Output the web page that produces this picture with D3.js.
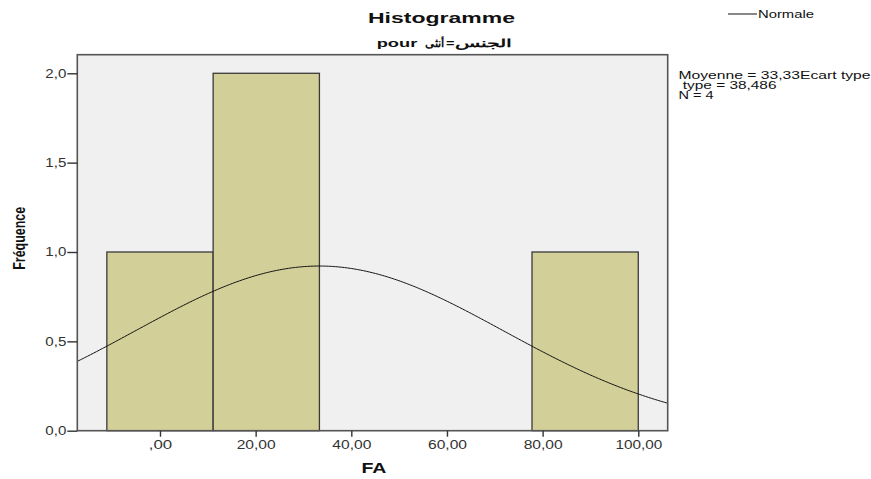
<!DOCTYPE html>
<html>
<head>
<meta charset="utf-8">
<script src="https://cdn.jsdelivr.net/npm/d3@7"></script>
<style>
  html, body { margin: 0; padding: 0; background: #fff; }
  svg { display: block; font-family: Arial, "Liberation Sans", sans-serif; }
</style>
</head>
<body>
<svg id="chart" width="871" height="479"></svg>
<script>
// Histogram bins (lower edge, upper edge) and frequencies
const binStart = [-11.111, 11.111, 77.778];
const binEnd   = [11.111, 33.333, 100];
const counts   = [1, 2, 1];

// Summary statistics for the fitted normal curve
const mean = 33.33;
const stdDev = 38.486;
const n = 4;
const binWidth = 22.222;

const xTicks = [0, 20, 40, 60, 80, 100];
const yTicks = [0, 0.5, 1.0, 1.5, 2.0];
const statLines = ["Moyenne = 33,33Ecart type", " type = 38,486", "N = 4"];

const svg = d3.select("#chart");
const plot = { left: 77.3, right: 667.7, top: 54.7, bottom: 430.7 };

// The typeface is set wide: stretch each label to its set width
const fit = (sel, w) => sel.attr("textLength", w).attr("lengthAdjust", "spacingAndGlyphs");

const x = d3.scaleLinear().domain([-17.29, 106.15]).range([plot.left, plot.right]);
const y = d3.scaleLinear().domain([0, 2.104]).range([plot.bottom, plot.top]);

// Plot background
svg.append("rect")
  .attr("x", plot.left).attr("y", plot.top)
  .attr("width", plot.right - plot.left).attr("height", plot.bottom - plot.top)
  .attr("fill", "#f0f0f0");

// Bars
svg.append("g").selectAll("rect")
  .data(counts)
  .join("rect")
  .attr("x", (d, i) => x(binStart[i]))
  .attr("y", d => y(d))
  .attr("width", (d, i) => x(binEnd[i]) - x(binStart[i]))
  .attr("height", d => y(0) - y(d))
  .attr("fill", "#d3cf98")
  .attr("stroke", "#3a3a3a")
  .attr("stroke-width", 1.3);

// Normal curve scaled to frequency
const peak = n * binWidth / (stdDev * Math.sqrt(2 * Math.PI));
const curvePts = d3.range(0, 401).map(i => {
  const v = x.domain()[0] + (x.domain()[1] - x.domain()[0]) * i / 400;
  const z = (v - mean) / stdDev;
  return [v, peak * Math.exp(-0.5 * z * z)];
});
svg.append("path")
  .datum(curvePts)
  .attr("fill", "none")
  .attr("stroke", "#111")
  .attr("stroke-width", 1)
  .attr("d", d3.line().x(d => x(d[0])).y(d => y(d[1])));

// Frame
svg.append("rect")
  .attr("x", plot.left).attr("y", plot.top)
  .attr("width", plot.right - plot.left).attr("height", plot.bottom - plot.top)
  .attr("fill", "none")
  .attr("stroke", "#555")
  .attr("stroke-width", 1.6);

// Axes
const fmtX = d => d === 0 ? ",00" : d3.format(".2f")(d).replace(".", ",");
const fmtY = d => d3.format(".1f")(d).replace(".", ",");

const xAxis = svg.append("g")
  .attr("transform", `translate(0,${plot.bottom})`)
  .call(d3.axisBottom(x).tickValues(xTicks).tickFormat(fmtX).tickSize(6).tickSizeOuter(0));
const yAxis = svg.append("g")
  .attr("transform", `translate(${plot.left},0)`)
  .call(d3.axisLeft(y).tickValues(yTicks).tickFormat(fmtY).tickSize(10).tickSizeOuter(0));

[xAxis, yAxis].forEach(g => {
  g.select(".domain").remove();
  g.selectAll(".tick line").attr("stroke", "#333").attr("stroke-width", 1.4);
  g.selectAll(".tick text")
    .attr("fill", "#333")
    .style("font-size", "12px")
    .style("font-family", "Arial, 'Liberation Sans', sans-serif");
});
xAxis.selectAll(".tick text")
  .attr("y", 0).attr("dy", 0)
  .attr("transform", "translate(0,18)")
  .each(function(d) {
    const s = fmtX(d);
    fit(d3.select(this), s.length * 7.8);
  });
yAxis.selectAll(".tick text")
  .attr("x", -11)
  .each(function() { fit(d3.select(this), 21); });

// Titles
fit(svg.append("text")
  .attr("x", 441.5).attr("y", 22.5)
  .attr("text-anchor", "middle")
  .style("font-size", "15px").style("font-weight", "bold")
  .attr("fill", "#111")
  .text("Histogramme"), 147);

// Subtitle: "pour" followed by the Arabic group label, laid out word by word
const subtitleParts = [
  { t: "pour",  x: 376.7, w: 40.6, size: 11.5 },
  { t: "أنثى",  x: 425,   w: 19,   size: 11 },
  { t: "=",     x: 446,   w: 8.5,  size: 11 },
  { t: "الجنس", x: 455,   w: 56.5, size: 11 }
];
subtitleParts.forEach(p => {
  fit(svg.append("text")
    .attr("x", p.x).attr("y", 47)
    .style("font-size", p.size + "px").style("font-weight", "bold")
    .attr("fill", "#111")
    .text(p.t), p.w);
});

// Axis titles
fit(svg.append("text")
  .attr("x", 374).attr("y", 473)
  .attr("text-anchor", "middle")
  .style("font-size", "15px").style("font-weight", "bold")
  .attr("fill", "#111")
  .text("FA"), 25);

fit(svg.append("text")
  .attr("transform", `translate(25,238.3) rotate(-90)`)
  .attr("text-anchor", "middle")
  .style("font-size", "16px").style("font-weight", "bold")
  .attr("fill", "#111")
  .text("Fréquence"), 63);

// Legend
svg.append("line")
  .attr("x1", 728).attr("x2", 757).attr("y1", 14).attr("y2", 14)
  .attr("stroke", "#111").attr("stroke-width", 1);
fit(svg.append("text")
  .attr("x", 758).attr("y", 17.5)
  .style("font-size", "11px")
  .attr("fill", "#111")
  .text("Normale"), 56);

// Statistics block
const statWidths = [192, 98, 35];
svg.append("g").selectAll("text")
  .data(statLines)
  .join("text")
  .attr("x", 678.5)
  .attr("y", (d, i) => 78.5 + i * 10)
  .attr("xml:space", "preserve")
  .style("white-space", "pre")
  .style("font-size", "10.5px")
  .attr("fill", "#111")
  .text(d => d)
  .each(function(d, i) { fit(d3.select(this), statWidths[i]); });
</script>
</body>
</html>
